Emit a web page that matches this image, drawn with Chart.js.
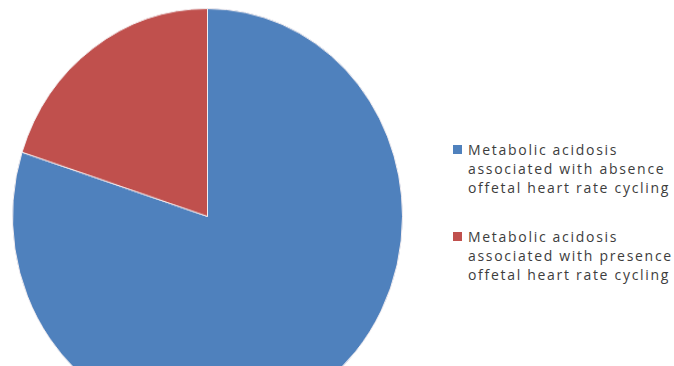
<!DOCTYPE html>
<html>
<head>
<meta charset="utf-8">
<script src="https://cdn.jsdelivr.net/npm/chart.js@4.4.1/dist/chart.umd.min.js"></script>
<style>
  html, body { margin: 0; padding: 0; width: 674px; height: 366px; overflow: hidden; background: #fff; }
  #pieBox { position: absolute; left: 12px; top: 8px; width: 391px; height: 391px; transform: scaleY(1.066); transform-origin: 0 0; }
  #legend { position: absolute; left: 453px; top: 140px; font-family: "Open Sans", sans-serif; font-size: 14px; letter-spacing: 1.7px; color: #3d3d3d; }
  .item { position: relative; padding-left: 15px; line-height: 19px; margin-bottom: 30px; }
  .sw { position: absolute; left: 0; top: 5px; width: 9px; height: 9px; }
</style>
</head>
<body>
<div id="pieBox"><canvas id="c"></canvas></div>
<div id="legend"></div>
<script>
const categories = [
  ["Metabolic acidosis", "associated with absence", "offetal heart rate cycling"],
  ["Metabolic acidosis", "associated with presence", "offetal heart rate cycling"]
];
const values = [80, 20];
const colors = ["#4F81BD", "#C0504D"];

new Chart(document.getElementById("c"), {
  type: "pie",
  data: {
    labels: categories.map(l => l.join(" ")),
    datasets: [{
      data: values,
      backgroundColor: colors,
      borderColor: "#f4eef0",
      borderWidth: 1
    }]
  },
  options: {
    responsive: true,
    maintainAspectRatio: false,
    animation: false,
    layout: { padding: 0 },
    plugins: { legend: { display: false }, tooltip: { enabled: false } }
  }
});

const lg = document.getElementById("legend");
categories.forEach((lines, i) => {
  const it = document.createElement("div");
  it.className = "item";
  const sw = document.createElement("span");
  sw.className = "sw";
  sw.style.background = colors[i];
  it.appendChild(sw);
  lines.forEach((t, k) => {
    if (k) it.appendChild(document.createElement("br"));
    it.appendChild(document.createTextNode(t));
  });
  lg.appendChild(it);
});
</script>
</body>
</html>
